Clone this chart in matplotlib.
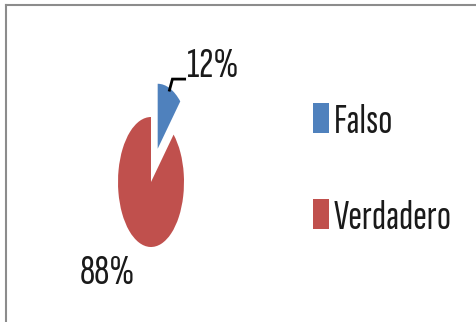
import numpy as np
import matplotlib.pyplot as plt
from matplotlib.lines import Line2D

labels = ["Falso", "Verdadero"]
values = [12, 88]
colors = ["#4F81BD", "#C0504D"]
explode = [0.55, 0.0]

W, H = 477, 322
plt.rcParams["font.family"] = ["Sofia Sans Extra Condensed", "Carlito", "DejaVu Sans"]


def main():
    fig = plt.figure(figsize=(W / 100, H / 100), dpi=100)

    # pie axes stretched vertically so the pie comes out as a tall ellipse
    ax = fig.add_axes([85 / W, 10 / H, 132 / W, 260 / H])
    wedges, _ = ax.pie(values, colors=colors, explode=explode, startangle=90,
                       counterclock=False, radius=1.0)
    ax.set_aspect("auto")
    ax.set_xlim(-2, 2)
    ax.set_ylim(-2, 2)
    ax.axis("off")

    # leader line for the small slice
    w = wedges[0]
    mid = np.deg2rad((w.theta1 + w.theta2) / 2)
    cx, cy = w.center
    p0 = (cx + 0.97 * np.cos(mid), cy + 0.97 * np.sin(mid))
    p1 = (p0[0] + 0.09, p0[1] + 0.17)
    p2 = (p1[0] + 0.37, p1[1])
    ax.plot([p0[0], p1[0], p2[0]], [p0[1], p1[1], p2[1]], color="black",
            lw=2, solid_joinstyle="miter", clip_on=False)

    ax.text(p2[0] + 0.08, p2[1] + 0.03, f"{values[0]}%", fontsize=31,
            ha="left", va="baseline", color="#1a1a1a")
    ax.text(-1.33, -1.415, f"{values[1]}%", fontsize=31,
            ha="center", va="center", color="#1a1a1a")

    leg = fig.legend(wedges, labels, loc="center left",
                     bbox_to_anchor=(313 / W, 152 / H), frameon=False,
                     fontsize=30, handlelength=0.38, handleheight=0.74,
                     handletextpad=0.12, labelspacing=1.4, borderpad=0,
                     borderaxespad=0)
    for t in leg.get_texts():
        t.set_color("#1a1a1a")

    # chart frame, top and left edges
    fig.add_artist(Line2D([6 / W, 6 / W], [0, 1 - 5 / H], color="#8c8c8c",
                          lw=1.5, transform=fig.transFigure))
    fig.add_artist(Line2D([6 / W, 1], [1 - 5 / H, 1 - 5 / H], color="#8c8c8c",
                          lw=1.5, transform=fig.transFigure))

    fig.savefig("out.png", dpi=100)


if __name__ == "__main__":
    main()
